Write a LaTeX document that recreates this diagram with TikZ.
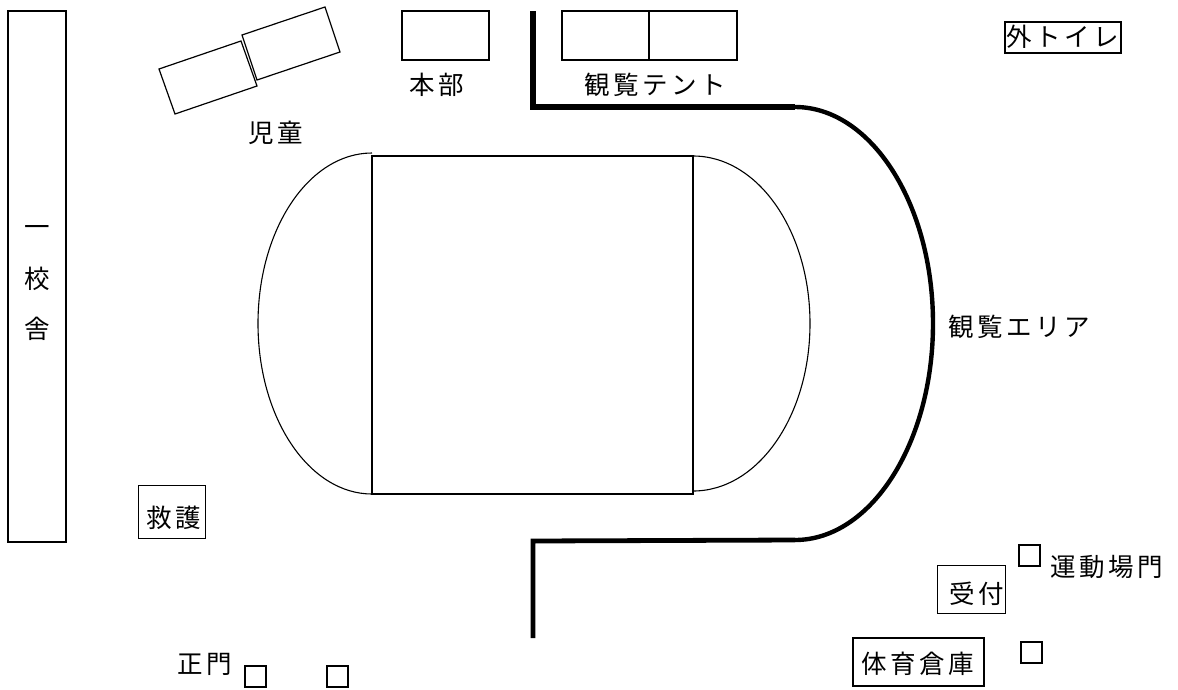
\documentclass[tikz,border=0pt]{standalone}
\usepackage{fontspec}
\setmainfont{Noto Sans CJK JP}
\newfontfamily\jpspaced[LetterSpace=14]{Noto Sans CJK JP}
\begin{document}
\begin{tikzpicture}[x=1pt,y=-1pt,
  box/.style={draw=black,line width=2pt,inner sep=0pt,xshift=-0.8pt,yshift=0.6pt},
  thinbox/.style={draw=black,line width=1.2pt,inner sep=0pt},
  wall/.style={draw=black,line width=5.5pt,line cap=butt,line join=miter},
  curvewall/.style={draw=black,line width=4.4pt},
  track/.style={draw=black,line width=1.1pt},
  lab/.style={anchor=west,inner sep=0pt,font=\fontsize{25.5}{27}\selectfont\jpspaced},
  gate/.style={draw=black,line width=2pt,minimum width=21pt,minimum height=21pt,inner sep=0pt,anchor=north west,xshift=-0.8pt,yshift=0.6pt}]
\useasboundingbox (0,0) rectangle (1178,689);
% school
\node[box,minimum width=58pt,minimum height=531pt,anchor=north west] (school) at (8,11) {};
\node[lab,anchor=center,font=\fontsize{25.5}{27}\selectfont] (s1) at (37,231) {一};
\node[lab,anchor=center,font=\fontsize{25.5}{27}\selectfont] (s2) at (37,279) {校};
\node[lab,anchor=center,font=\fontsize{25.5}{27}\selectfont] (s3) at (37,329) {舎};
% children tents
\draw[thinbox] (159,69) -- (241,41) -- (257,86) -- (175,114) -- cycle;
\draw[thinbox] (242,35) -- (325,7) -- (340,52) -- (257,80) -- cycle;
\node[lab] (jidou) at (248,133) {児童};
% honbu
\node[box,minimum width=87pt,minimum height=49pt,anchor=north west] (honbu) at (402,11) {};
\node[lab] (honbut) at (409,85) {本部};
% viewing tents
\node[box,minimum width=87pt,minimum height=49pt,anchor=north west] (t1) at (562,11) {};
\node[box,minimum width=88pt,minimum height=49pt,anchor=north west] (t2) at (649,11) {};
\node[lab] (tentt) at (584,85) {観覧テント};
% walls
\coordinate (w1) at (533,11);
\coordinate (w2) at (533,107);
\coordinate (w3) at (795,107);
\coordinate (w4) at (795,540);
\coordinate (w5) at (533,541);
\coordinate (w6) at (533,638);
\draw[wall] (w1) -- (w2) -- (w3);
\draw[wall,line width=4.8pt] (w4) -- (w5) -- (w6);
\draw[curvewall] (w3) .. controls (871,107) and (933,204) .. (933,323.5) .. controls (933,443) and (871,540) .. (w4);
% field
\node[box,minimum width=321pt,minimum height=338pt,anchor=north west] (field) at (372,156) {};
\draw[track] (372,153) .. controls (309,153) and (258,229) .. (258,323.5) .. controls (258,418) and (309,494) .. (372,494);
\draw[track] (693,156) .. controls (758,156) and (810,231) .. (810,323.5) .. controls (810,416) and (758,491) .. (693,491);
% labels
\node[box,minimum width=116pt,minimum height=31pt,anchor=north west] (toilet) at (1005,22) {};
\node[lab] (toilett) at (1006,37) {外トイレ};
\node[lab] (area) at (948,327) {観覧エリア};
\node[thinbox,minimum width=67pt,minimum height=53pt,anchor=north west] (kyugo) at (138,485) {};
\node[lab] (kyugot) at (146,518) {救護};
\node[thinbox,minimum width=68pt,minimum height=48pt,anchor=north west] (uke) at (937,565) {};
\node[lab] (uket) at (949,594) {受付};
\node[box,minimum width=131pt,minimum height=48pt,anchor=north west] (souko) at (853,638) {};
\node[lab] (soukot) at (861,664) {体育倉庫};
\node[lab] (undou) at (1050,567) {運動場門};
\node[lab] (seimon) at (177,664) {正門};
% gates
\node[gate] (g1) at (245,666) {};
\node[gate] (g2) at (327,666) {};
\node[gate] (g3) at (1019,545) {};
\node[gate] (g4) at (1021,642) {};
\end{tikzpicture}
\end{document}
